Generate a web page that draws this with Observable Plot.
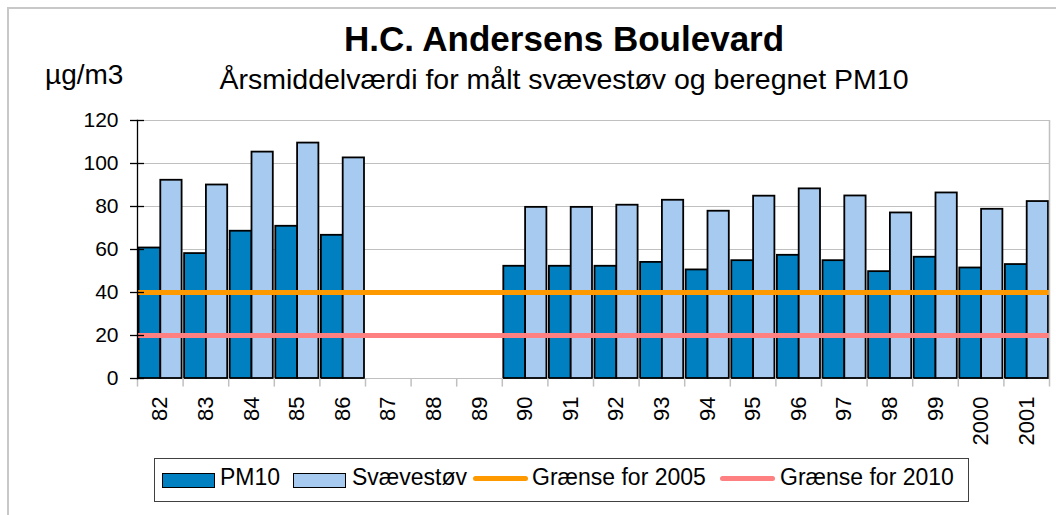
<!DOCTYPE html>
<html>
<head>
<meta charset="utf-8">
<script src="https://cdn.jsdelivr.net/npm/d3@7"></script>
<script src="https://cdn.jsdelivr.net/npm/@observablehq/plot@0.6"></script>
<style>
  html, body { margin: 0; padding: 0; background: white; }
  #chart { position: relative; width: 1056px; height: 515px; overflow: hidden; background: white;
           font-family: "Liberation Sans", Arial, Helvetica, sans-serif; color: black; }
  .abs { position: absolute; white-space: nowrap; line-height: 1; }
  .title { font-size: 35px; font-weight: bold; left: 564px; top: 21.4px; transform: translateX(-50%); }
  .subtitle { font-size: 28.5px; left: 564px; top: 64.9px; transform: translateX(-50%); }
  .unit { font-size: 28px; left: 45px; top: 61.3px; }
  .frame { position: absolute; left: 7px; top: 7px; width: 3000px; height: 3000px;
           border-left: 2px solid #c8c8c8; border-top: 2px solid #c8c8c8; pointer-events: none; }
  .legend { position: absolute; left: 154px; top: 458px; width: 815px; height: 44px;
            border: 1.5px solid #404040; box-sizing: border-box; background: white; }
  .sw { position: absolute; box-sizing: border-box; }
  .lg { position: absolute; font-size: 23px; line-height: 1; white-space: nowrap; top: 465.5px; }
</style>
</head>
<body>
<div id="chart"></div>
<script>
// ---- data ----
const years = ["82","83","84","85","86","87","88","89","90","91","92","93","94","95","96","97","98","99","2000","2001"];
const pm10 = [60.7, 58.1, 68.5, 70.8, 66.6, null, null, null, 52.2, 52.2, 52.2, 54.0, 50.5, 54.8, 57.3, 54.8, 49.7, 56.4, 51.4, 53.0];
const svaevestov = [92.2, 90.0, 105.3, 109.5, 102.6, null, null, null, 79.6, 79.6, 80.6, 82.9, 77.8, 84.8, 88.2, 84.9, 77.0, 86.3, 78.7, 82.3];
const limit2005 = [40];
const limit2010 = [20];
const yTicks = [0, 20, 40, 60, 80, 100, 120];

const seriesNames = ["PM10", "Svævestøv", "Grænse for 2005", "Grænse for 2010"];
const colors = {pm10: "#0080C0", sv: "#A6CAF0", l2005: "#FF9900", l2010: "#FF8080"};

const rows = years.map((y, i) => ({year: y, pm10: pm10[i], sv: svaevestov[i]}));

const W = 1056, H = 515, mL = 137, mR = 7, mT = 120, mB = 137;
const bw = (W - mL - mR) / years.length;

const chart = Plot.plot({
  width: W, height: H,
  marginLeft: mL, marginRight: mR, marginTop: mT, marginBottom: mB,
  style: {background: "transparent", fontFamily: "Liberation Sans, Arial, sans-serif", color: "black", overflow: "visible"},
  x: {type: "band", domain: years, padding: 0, round: false, axis: null},
  y: {domain: [0, 120], axis: null},
  marks: [
    Plot.ruleY(yTicks, {stroke: "#c0c0c0", strokeWidth: 1.2}),
    Plot.barY(rows.filter(d => d.pm10 != null), {x: "year", y: "pm10", fill: colors.pm10, stroke: "black", strokeWidth: 1.8,
      insetLeft: 1.5, insetRight: bw - 23.3}),
    Plot.barY(rows.filter(d => d.sv != null), {x: "year", y: "sv", fill: colors.sv, stroke: "black", strokeWidth: 1.8,
      insetLeft: 23.3, insetRight: 1}),
    Plot.ruleY(limit2005, {stroke: colors.l2005, strokeWidth: 5}),
    Plot.ruleY(limit2010, {stroke: colors.l2010, strokeWidth: 5}),
    Plot.ruleX(years, {x: d => d, dx: -bw / 2, y1: 0, y2: -4, stroke: "#c0c0c0", strokeWidth: 1.5}),
    Plot.ruleX(years.slice(-1), {x: d => d, dx: bw / 2, y1: -4, y2: 120, stroke: "#c0c0c0", strokeWidth: 1.5}),
    Plot.frame({anchor: "left", stroke: "black", strokeWidth: 1.3}),
    Plot.axisY(yTicks, {tickSize: 14, dx: 7, fill: "none", stroke: "black", strokeWidth: 1.3, label: null}),
    Plot.axisY(yTicks, {tickSize: 0, tickPadding: 19, fontSize: 21, fill: "black", label: null}),
    Plot.axisX({tickSize: 0, tickPadding: 18, tickRotate: -90, fontSize: 22, fill: "black", label: null})
  ]
});

const root = document.getElementById("chart");
root.appendChild(chart);
chart.style.position = "absolute";
chart.style.left = "0px";
chart.style.top = "0px";

function add(cls, text, extra) {
  const d = document.createElement("div");
  d.className = cls;
  if (text != null) d.textContent = text;
  if (extra) Object.assign(d.style, extra);
  root.appendChild(d);
  return d;
}
add("abs title", "H.C. Andersens Boulevard");
add("abs subtitle", "Årsmiddelværdi for målt svævestøv og beregnet PM10");
add("abs unit", "µg/m3");
add("frame");
add("legend");
// legend items
add("sw", null, {left: "162px", top: "473px", width: "53px", height: "15px", background: colors.pm10, border: "1.5px solid black"});
add("lg", seriesNames[0], {left: "220px"});
add("sw", null, {left: "293px", top: "473px", width: "53px", height: "15px", background: colors.sv, border: "1.5px solid black"});
add("lg", seriesNames[1], {left: "352px"});
add("sw", null, {left: "473px", top: "476px", width: "55px", height: "5px", background: colors.l2005, borderRadius: "3px"});
add("lg", seriesNames[2], {left: "532px"});
add("sw", null, {left: "720px", top: "476px", width: "55px", height: "5px", background: colors.l2010, borderRadius: "3px"});
add("lg", seriesNames[3], {left: "780px"});
</script>
</body>
</html>
